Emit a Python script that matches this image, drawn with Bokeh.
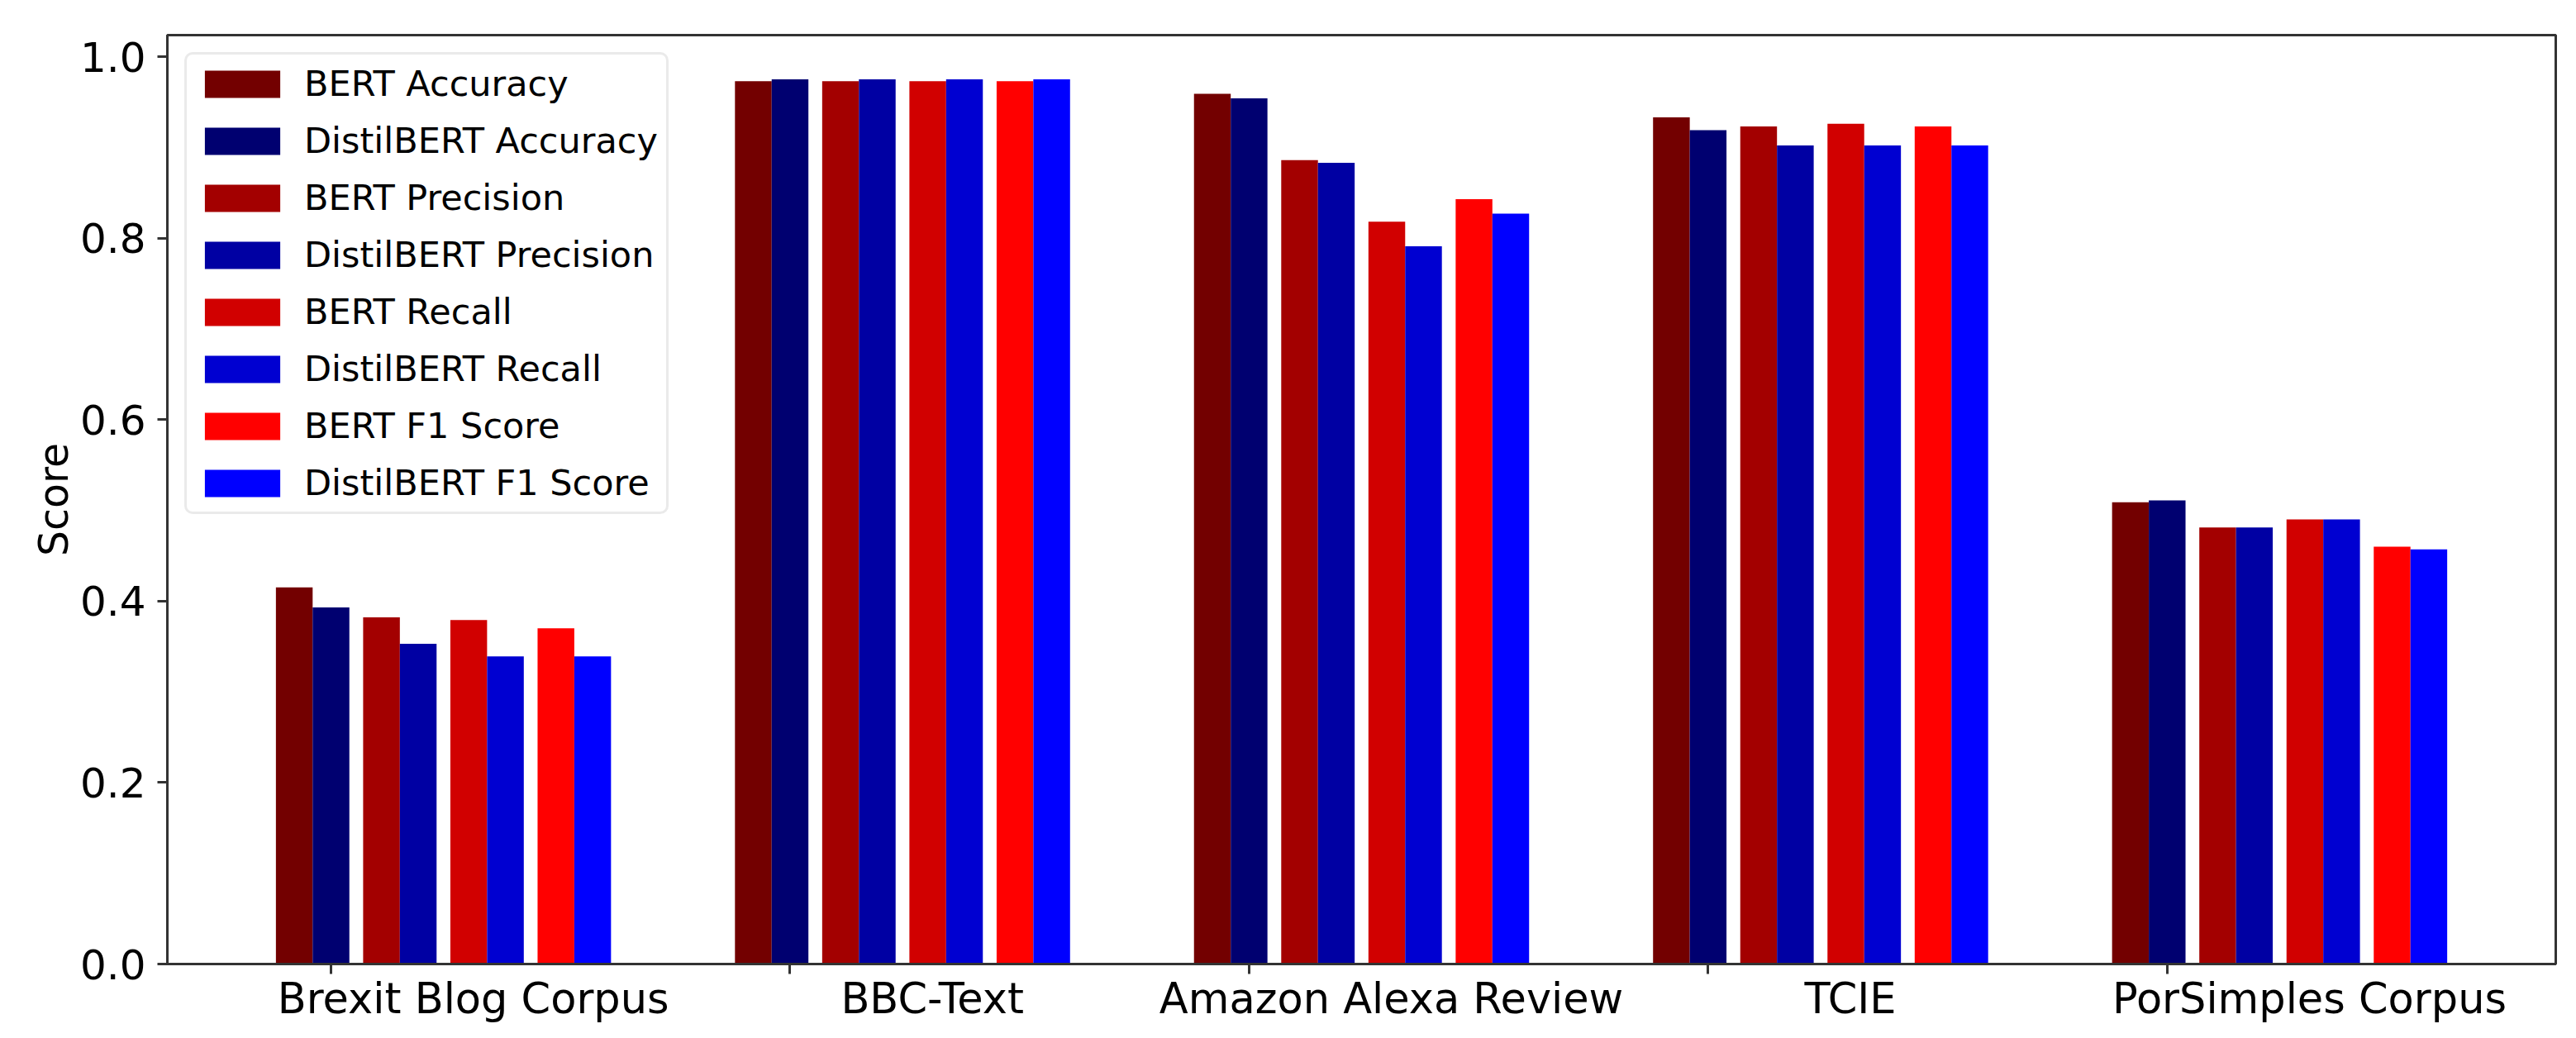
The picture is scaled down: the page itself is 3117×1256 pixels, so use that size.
from bokeh.plotting import figure
from bokeh.models import Range1d, FixedTicker, LinearAxis
from bokeh.embed import file_html
from bokeh.resources import INLINE

# ---- data ----
datasets = ["Brexit Blog Corpus", "BBC-Text", "Amazon Alexa Review", "TCIE", "PorSimples Corpus"]
bert_accuracy = [0.415, 0.973, 0.959, 0.933, 0.509]
distilbert_accuracy = [0.393, 0.975, 0.954, 0.919, 0.511]
bert_precision = [0.382, 0.973, 0.886, 0.923, 0.481]
distilbert_precision = [0.353, 0.975, 0.883, 0.902, 0.481]
bert_recall = [0.379, 0.973, 0.818, 0.926, 0.490]
distilbert_recall = [0.339, 0.975, 0.791, 0.902, 0.490]
bert_f1 = [0.370, 0.973, 0.843, 0.923, 0.460]
distilbert_f1 = [0.339, 0.975, 0.827, 0.902, 0.457]
y_ticks = [0.0, 0.2, 0.4, 0.6, 0.8, 1.0]

series = [
    ("BERT Accuracy", bert_accuracy, "#730000", 0, 0),
    ("DistilBERT Accuracy", distilbert_accuracy, "#000070", 0, 1),
    ("BERT Precision", bert_precision, "#a30000", 1, 0),
    ("DistilBERT Precision", distilbert_precision, "#0000a3", 1, 1),
    ("BERT Recall", bert_recall, "#d10000", 2, 0),
    ("DistilBERT Recall", distilbert_recall, "#0000d1", 2, 1),
    ("BERT F1 Score", bert_f1, "#ff0000", 3, 0),
    ("DistilBERT F1 Score", distilbert_f1, "#0000ff", 3, 1),
]

bar_w = 0.08
pair_step = 0.19
FONT = "DejaVu Sans"

p = figure(width=3100, height=1240,
           x_range=Range1d(-0.2765, 4.9265), y_range=Range1d(0, 1.0237),
           output_backend="svg", toolbar_location=None, x_axis_location=None,
           min_border_left=202, min_border_right=8, min_border_top=42, min_border_bottom=72)
p.background_fill_color = "white"
p.border_fill_color = "white"
p.grid.visible = False
p.outline_line_color = "#333333"
p.outline_line_width = 3

groups = list(range(len(datasets)))
for label, vals, color, m, k in series:
    xs = [g + m * pair_step + k * bar_w for g in groups]
    p.vbar(x=xs, top=vals, bottom=0, width=bar_w, fill_color=color, line_color=None,
           legend_label=label)

# x axis: category labels (major ticks, marks hidden) + tick marks (minor ticks)
label_pos = [round(g + 0.39, 4) for g in groups]
tick_pos = [round(g + bar_w, 4) for g in groups]
xa = LinearAxis(ticker=FixedTicker(ticks=label_pos, minor_ticks=tick_pos),
                major_label_overrides={pos: name for pos, name in zip(label_pos, datasets)},
                major_tick_line_color=None, major_tick_out=12, major_tick_in=0,
                minor_tick_line_color="#333333", minor_tick_line_width=3,
                minor_tick_out=12, minor_tick_in=0,
                axis_line_width=3, axis_line_color="#333333",
                major_label_standoff=0,
                major_label_text_font=FONT, major_label_text_font_size="51px",
                major_label_text_color="black")
p.add_layout(xa, "below")

ya = p.yaxis[0]
ya.ticker = FixedTicker(ticks=y_ticks)
ya.major_label_overrides = {t: f"{t:.1f}" for t in y_ticks}
ya.major_label_text_font = FONT
ya.major_label_text_font_size = "50px"
ya.major_label_text_color = "black"
ya.major_tick_out = 12
ya.major_tick_in = 0
ya.major_tick_line_width = 3
ya.major_tick_line_color = "#333333"
ya.minor_tick_line_color = None
ya.axis_line_width = 3
ya.axis_line_color = "#333333"
ya.major_label_standoff = 14
ya.axis_label = "Score"
ya.axis_label_text_font = FONT
ya.axis_label_text_font_size = "49px"
ya.axis_label_text_font_style = "normal"
ya.axis_label_text_color = "black"
ya.axis_label_standoff = 0

lg = p.legend[0]
lg.location = "top_left"
lg.margin = 21
lg.padding = 10
lg.spacing = 19
lg.glyph_width = 114
lg.glyph_height = 41
lg.label_standoff = 18
lg.label_text_font = FONT
lg.label_text_font_size = "43px"
lg.label_text_color = "black"
lg.border_line_color = "#d5d5d5"
lg.border_line_width = 3
lg.background_fill_color = "white"
lg.background_fill_alpha = 0.8
if "border_radius" in lg.properties():
    lg.border_radius = 10

open("out.html", "w").write(file_html(p, INLINE))
